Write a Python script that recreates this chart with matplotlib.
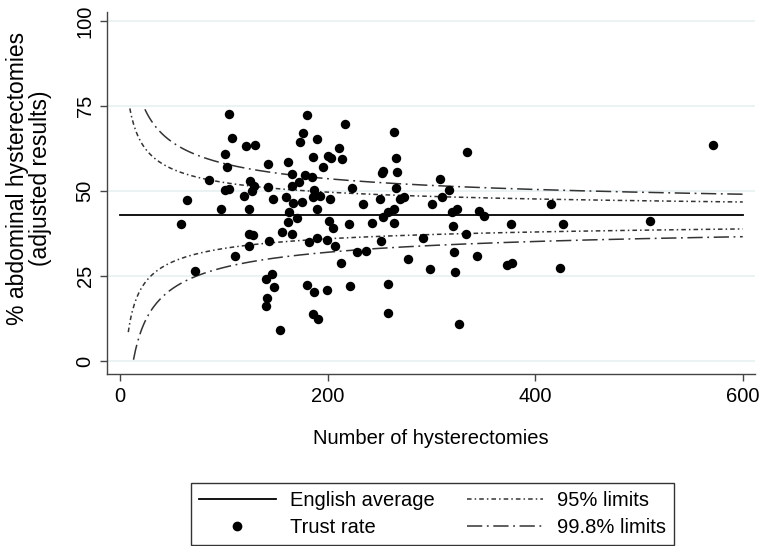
import numpy as np
import matplotlib
matplotlib.use("Agg")
import matplotlib.pyplot as plt
from matplotlib.lines import Line2D

plt.rcParams['font.family'] = ['Liberation Sans', 'DejaVu Sans']

# Trust data: number of hysterectomies and % abdominal (adjusted)
n_trust = [104.8, 180.5, 107.6, 176.1, 173.5, 190.2, 121.4, 130.4, 101.5, 186.3,
           103.4, 142.3, 161.6, 165.8, 178.0, 185.4, 85.5, 125.0, 172.8, 129.2,
           142.7, 165.8, 100.9, 104.8, 127.2, 187.0, 64.9, 119.5, 147.5, 159.7,
           166.4, 175.7, 186.3, 97.6, 124.0, 163.2, 190.2, 58.8, 170.6, 161.6,
           155.9, 165.8, 124.3, 128.2, 143.6, 124.0, 182.5, 190.2, 110.5, 72.6,
           146.8, 140.4, 148.4, 180.5, 187.0, 142.0, 140.4, 154.5, 186.3, 191.1,
           216.6, 263.8, 210.7, 200.8, 203.7, 213.7, 265.7, 195.7, 252.2, 253.8,
           266.7, 266.4, 223.6, 192.8, 202.4, 234.5, 250.6, 269.9, 274.0, 201.7,
           205.6, 220.7, 242.6, 253.8, 258.6, 263.8, 264.1, 199.8, 207.5, 212.7,
           228.7, 236.8, 251.3, 277.3, 199.8, 221.7, 258.6, 258.6, 291.7, 298.5,
           308.4, 316.8, 310.6, 300.7, 321.3, 322.2, 323.2, 326.5, 320.0, 325.1,
           334.8, 333.5, 343.8, 345.7, 351.1, 376.6, 372.7, 377.5, 415.7, 426.7,
           423.5, 510.5, 570.9]
pct_trust = [72.7, 72.2, 65.5, 66.9, 64.3, 65.4, 63.2, 63.5, 61.0, 60.1,
             57.0, 57.8, 58.4, 54.9, 54.8, 54.1, 53.2, 53.0, 52.6, 51.4,
             51.3, 51.5, 50.3, 50.5, 50.1, 50.3, 47.3, 48.4, 47.6, 48.2,
             46.5, 46.8, 48.3, 44.7, 44.7, 43.8, 44.6, 40.4, 42.0, 41.0,
             38.0, 37.4, 37.4, 37.1, 35.3, 33.7, 34.9, 36.1, 30.8, 26.4,
             25.7, 24.1, 21.8, 22.4, 20.2, 18.5, 16.2, 9.0, 13.7, 12.4,
             69.8, 67.4, 62.7, 60.4, 59.6, 59.5, 59.7, 57.0, 55.4, 56.0,
             55.5, 50.9, 50.8, 48.5, 47.6, 46.2, 47.7, 47.6, 48.2, 41.3,
             39.0, 40.3, 40.6, 42.4, 43.7, 44.8, 40.7, 35.7, 33.8, 28.9,
             32.1, 32.3, 35.3, 30.0, 20.9, 22.1, 22.7, 14.2, 36.1, 27.1,
             53.5, 50.3, 48.3, 46.2, 39.7, 32.0, 26.1, 10.8, 43.9, 44.6,
             61.5, 37.3, 30.9, 44.1, 42.7, 40.2, 28.2, 28.9, 46.1, 40.2,
             27.5, 41.2, 63.6]

english_avg = 42.8          # %
z95, z998 = 1.96, 3.09
n_start_95 = (9.5, 8.0)     # (upper, lower)
n_start_998 = (24.0, 13.0)
n_max = 600

xticks = [0, 200, 400, 600]
yticks = [0, 25, 50, 75, 100]


def limit(n, z, sign):
    p = english_avg / 100.0
    return 100.0 * (p + sign * z * np.sqrt(p * (1 - p) / n))


fig = plt.figure(figsize=(7.59, 5.46), dpi=100)
ax = fig.add_axes([0.141, 0.315, 0.854, 0.663])

for yt in yticks:
    ax.axhline(yt, color='#e8f0f1', lw=1.2, zorder=0)

ls95 = (0, (3, 2, 1, 2))
ls998 = (0, (10, 3, 1.2, 3))

nu = np.linspace(n_start_95[0], n_max, 600)
nl = np.linspace(n_start_95[1], n_max, 600)
ax.plot(nu, limit(nu, z95, 1), color='#333333', lw=1.1, linestyle=ls95)
ax.plot(nl, limit(nl, z95, -1), color='#333333', lw=1.1, linestyle=ls95)
nu = np.linspace(n_start_998[0], n_max, 600)
nl = np.linspace(n_start_998[1], n_max, 600)
ax.plot(nu, limit(nu, z998, 1), color='#333333', lw=1.1, linestyle=ls998)
ax.plot(nl, limit(nl, z998, -1), color='#333333', lw=1.1, linestyle=ls998)

ax.plot([0, n_max], [english_avg, english_avg], color='black', lw=1.3)
ax.plot(n_trust, pct_trust, 'o', color='black', markersize=6.8, markeredgewidth=0)

ax.set_xlim(-12.5, 612)
ax.set_ylim(-3.8, 102.6)
ax.set_xticks(xticks)
ax.set_yticks(yticks)
for s in ['top', 'right']:
    ax.spines[s].set_visible(False)
for s in ['left', 'bottom']:
    ax.spines[s].set_color('#444444')
    ax.spines[s].set_linewidth(1.0)
ax.tick_params(axis='both', direction='out', length=5, width=1, color='#444444',
               labelsize=14.5, pad=4)
for lab in ax.get_yticklabels():
    lab.set_rotation(90)
    lab.set_va('center')

ax.set_xlabel('Number of hysterectomies', fontsize=14.5, labelpad=17)
ax.set_ylabel('% abdominal hysterectomies\n(adjusted results)', fontsize=16.5,
              linespacing=1.0)
ax.yaxis.set_label_coords(-0.085, 0.54)

handles = [
    Line2D([], [], color='black', lw=1.3),
    Line2D([], [], color='black', marker='o', linestyle='None', markersize=6),
    Line2D([], [], color='#333333', lw=1.1, linestyle=ls95),
    Line2D([], [], color='#333333', lw=1.1, linestyle=ls998),
]
labels = ['English average', 'Trust rate', '95% limits', '99.8% limits']
leg = fig.legend(handles, labels, ncol=2, loc='upper center',
                 bbox_to_anchor=(0.57, 0.1154), borderaxespad=0,
                 fontsize=14.5, frameon=True,
                 fancybox=False, edgecolor='black', handlelength=3.8,
                 columnspacing=1.6, handletextpad=0.7, borderpad=0.4,
                 labelspacing=0.4)
leg.get_frame().set_linewidth(1.0)

fig.savefig('out.png', dpi=100)
